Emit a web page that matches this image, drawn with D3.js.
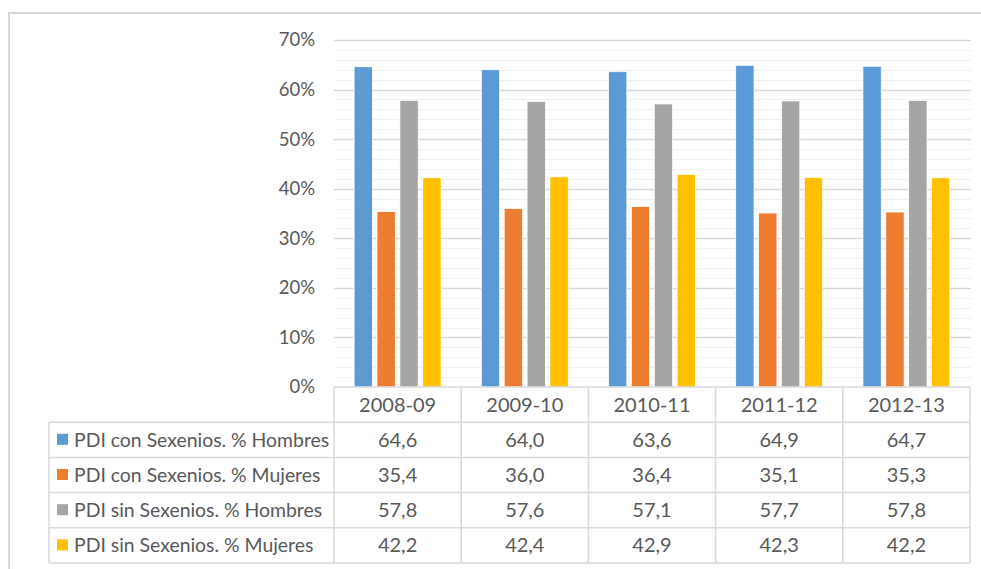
<!DOCTYPE html>
<html>
<head>
<meta charset="utf-8">
<script src="https://cdn.jsdelivr.net/npm/d3@7"></script>
<style>
  html, body { margin: 0; padding: 0; background: #fff; }
  svg { display: block; }
  text { font-family: Lato, "Open Sans", sans-serif; fill: #595959; }
</style>
</head>
<body>
<svg id="chart" width="981" height="569"></svg>
<script>
// Academic years shown on the category axis
const categories = ["2008-09", "2009-10", "2010-11", "2011-12", "2012-13"];

// Series labels and colours
const seriesNames = [
  "PDI con Sexenios. % Hombres",
  "PDI con Sexenios. % Mujeres",
  "PDI sin Sexenios. % Hombres",
  "PDI sin Sexenios. % Mujeres"
];
const seriesColors = ["#5B9BD5", "#ED7D31", "#A5A5A5", "#FFC000"];

// Percentages per series, one value per academic year
const conHombres = [64.6, 64.0, 63.6, 64.9, 64.7];
const conMujeres = [35.4, 36.0, 36.4, 35.1, 35.3];
const sinHombres = [57.8, 57.6, 57.1, 57.7, 57.8];
const sinMujeres = [42.2, 42.4, 42.9, 42.3, 42.2];
const seriesValues = [conHombres, conMujeres, sinHombres, sinMujeres];

// Value axis ticks (percent)
const yTicks = [0, 10, 20, 30, 40, 50, 60, 70];
const yMinorTicks = d3.range(0, 71, 2);

const svg = d3.select("#chart");

// Outer chart frame
svg.append("rect")
  .attr("x", 9).attr("y", 13)
  .attr("width", 1000).attr("height", 600)
  .attr("fill", "none")
  .attr("stroke", "#d9d9d9")
  .attr("stroke-width", 2);

const plot = { left: 334, right: 970, top: 40, bottom: 387 };

const y = d3.scaleLinear().domain([0, 70]).range([plot.bottom, plot.top]);
const x0 = d3.scaleBand().domain(categories).range([plot.left, plot.right]).padding(0);
const x1 = d3.scaleBand().domain(seriesNames).range([0, x0.bandwidth()])
  .paddingInner(0.2).paddingOuter(0.88);

// Minor gridlines
svg.append("g")
  .selectAll("line")
  .data(yMinorTicks.filter(t => t % 10 !== 0))
  .join("line")
  .attr("x1", plot.left).attr("x2", plot.right + 1)
  .attr("y1", d => Math.round(y(d)) + 0.5).attr("y2", d => Math.round(y(d)) + 0.5)
  .attr("stroke", "#f0f0f0").attr("stroke-width", 1);

// Major gridlines
svg.append("g")
  .selectAll("line")
  .data(yTicks.filter(t => t > 0))
  .join("line")
  .attr("x1", plot.left).attr("x2", plot.right + 1)
  .attr("y1", d => Math.round(y(d)) + 0.5).attr("y2", d => Math.round(y(d)) + 0.5)
  .attr("stroke", "#d9d9d9").attr("stroke-width", 1.5);

// Value axis labels
const yAxis = d3.axisLeft(y)
  .tickValues(yTicks)
  .tickFormat(d => d + "%")
  .tickSize(0)
  .tickPadding(19);
const yg = svg.append("g").attr("transform", `translate(${plot.left},0)`).call(yAxis);
yg.select(".domain").remove();
yg.selectAll("text")
  .attr("font-family", "Lato, 'Open Sans', sans-serif")
  .attr("font-size", 18.5)
  .attr("fill", "#595959");

// Clustered bars
const groups = svg.append("g")
  .selectAll("g")
  .data(categories)
  .join("g")
  .attr("transform", d => `translate(${x0(d)},0)`);

groups.selectAll("rect")
  .data((c, i) => seriesNames.map((s, k) => ({ s, k, v: seriesValues[k][i] })))
  .join("rect")
  .attr("x", d => x1(d.s))
  .attr("width", x1.bandwidth())
  .attr("y", d => y(d.v))
  .attr("height", d => y(0) - y(d.v))
  .attr("fill", d => seriesColors[d.k])
  .attr("stroke", "#ffffff")
  .attr("stroke-width", 0.75);

// Data table below the plot
const rowH = 35.2;
const tableTop = plot.bottom;
const legendLeft = 49;
const lineColor = "#d9d9d9";
const cellFont = 20;
const legendFont = 19.4;
const tbl = svg.append("g");

// horizontal lines
const hLines = [
  { y: tableTop, x1: plot.left, x2: plot.right },
  ...d3.range(1, seriesNames.length + 2).map(r => ({ y: tableTop + r * rowH, x1: legendLeft, x2: plot.right }))
];
tbl.selectAll("line.h")
  .data(hLines)
  .join("line")
  .attr("class", "h")
  .attr("x1", d => d.x1).attr("x2", d => d.x2)
  .attr("y1", d => d.y).attr("y2", d => d.y)
  .attr("stroke", lineColor).attr("stroke-width", 1.5);

// vertical lines
const colEdges = categories.map(c => x0(c)).concat([plot.right]);
tbl.selectAll("line.v")
  .data(colEdges)
  .join("line")
  .attr("class", "v")
  .attr("x1", d => d).attr("x2", d => d)
  .attr("y1", tableTop).attr("y2", tableTop + (seriesNames.length + 1) * rowH)
  .attr("stroke", lineColor).attr("stroke-width", 1.5);
tbl.append("line")
  .attr("x1", legendLeft).attr("x2", legendLeft)
  .attr("y1", tableTop + rowH).attr("y2", tableTop + (seriesNames.length + 1) * rowH)
  .attr("stroke", lineColor).attr("stroke-width", 1.5);

// header: category labels
tbl.selectAll("text.cat")
  .data(categories)
  .join("text")
  .attr("class", "cat")
  .attr("x", d => x0(d) + x0.bandwidth() / 2)
  .attr("y", tableTop + rowH / 2)
  .attr("dy", "0.35em")
  .attr("text-anchor", "middle")
  .attr("font-size", cellFont)
  .text(d => d);

// legend rows with swatches
const legendRows = tbl.selectAll("g.row")
  .data(seriesNames)
  .join("g")
  .attr("class", "row")
  .attr("transform", (d, k) => `translate(0,${tableTop + (k + 1) * rowH})`);

legendRows.append("rect")
  .attr("x", 57).attr("y", rowH / 2 - 6)
  .attr("width", 11).attr("height", 11)
  .attr("fill", (d, k) => seriesColors[k]);

legendRows.append("text")
  .attr("x", 74)
  .attr("y", rowH / 2)
  .attr("dy", "0.35em")
  .attr("font-size", legendFont)
  .text(d => d);

// value cells (Spanish decimal comma)
const fmt = v => v.toFixed(1).replace(".", ",");
legendRows.selectAll("text.val")
  .data((s, k) => seriesValues[k])
  .join("text")
  .attr("class", "val")
  .attr("x", (v, i) => x0(categories[i]) + x0.bandwidth() / 2)
  .attr("y", rowH / 2)
  .attr("dy", "0.35em")
  .attr("text-anchor", "middle")
  .attr("font-size", cellFont)
  .text(fmt);
</script>
</body>
</html>
